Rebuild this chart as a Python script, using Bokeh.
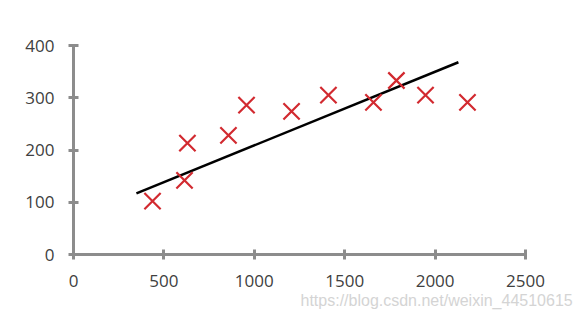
from bokeh.plotting import figure
from bokeh.models import Range1d, Title, FixedTicker
from bokeh.embed import file_html
from bokeh.resources import INLINE

# data
x_vals = [437, 614, 630, 857, 957, 1206, 1410, 1659, 1786, 1947, 2179]
y_vals = [102, 142, 213, 228, 286, 274, 305, 291, 333, 305, 291]
fit_x = [348, 2129]
fit_y = [117, 368]
x_ticks = [0, 500, 1000, 1500, 2000, 2500]
y_ticks = [0, 100, 200, 300, 400]
watermark = "https://blog.csdn.net/weixin_44510615"

p = figure(width=579, height=320, output_backend="svg", toolbar_location=None,
           x_range=Range1d(0, 2500), y_range=Range1d(0, 400),
           min_border_left=73, min_border_right=54, min_border_top=45, min_border_bottom=66)
p.frame_width = 452
p.frame_height = 209
p.outline_line_color = None
p.grid.visible = False
p.background_fill_color = "white"
p.border_fill_color = "white"

for ax in (p.xaxis, p.yaxis):
    ax.axis_line_color = "#8c8c8c"
    ax.axis_line_width = 3
    ax.major_tick_line_color = "#8c8c8c"
    ax.major_tick_line_width = 3
    ax.major_tick_in = 5
    ax.major_tick_out = 5
    ax.minor_tick_line_color = None
    ax.major_label_text_font = "Open Sans"
    ax.major_label_text_font_size = "17px"
    ax.major_label_text_color = "#404040"

p.xaxis.ticker = FixedTicker(ticks=x_ticks)
p.yaxis.ticker = FixedTicker(ticks=y_ticks)
p.xaxis.major_label_standoff = 15
p.yaxis.major_label_standoff = 14

p.line(fit_x, fit_y, line_color="black", line_width=2.5)
p.scatter(x_vals, y_vals, marker="x", size=23, line_color="#d22a30", line_width=2.2)

wm = Title(text=watermark, align="left", offset=227, text_font="Liberation Sans",
           text_font_size="16px", text_font_style="normal", text_color="#d4d4d4",
           standoff=0)
p.add_layout(wm, "below")

open("out.html", "w").write(file_html(p, INLINE))
